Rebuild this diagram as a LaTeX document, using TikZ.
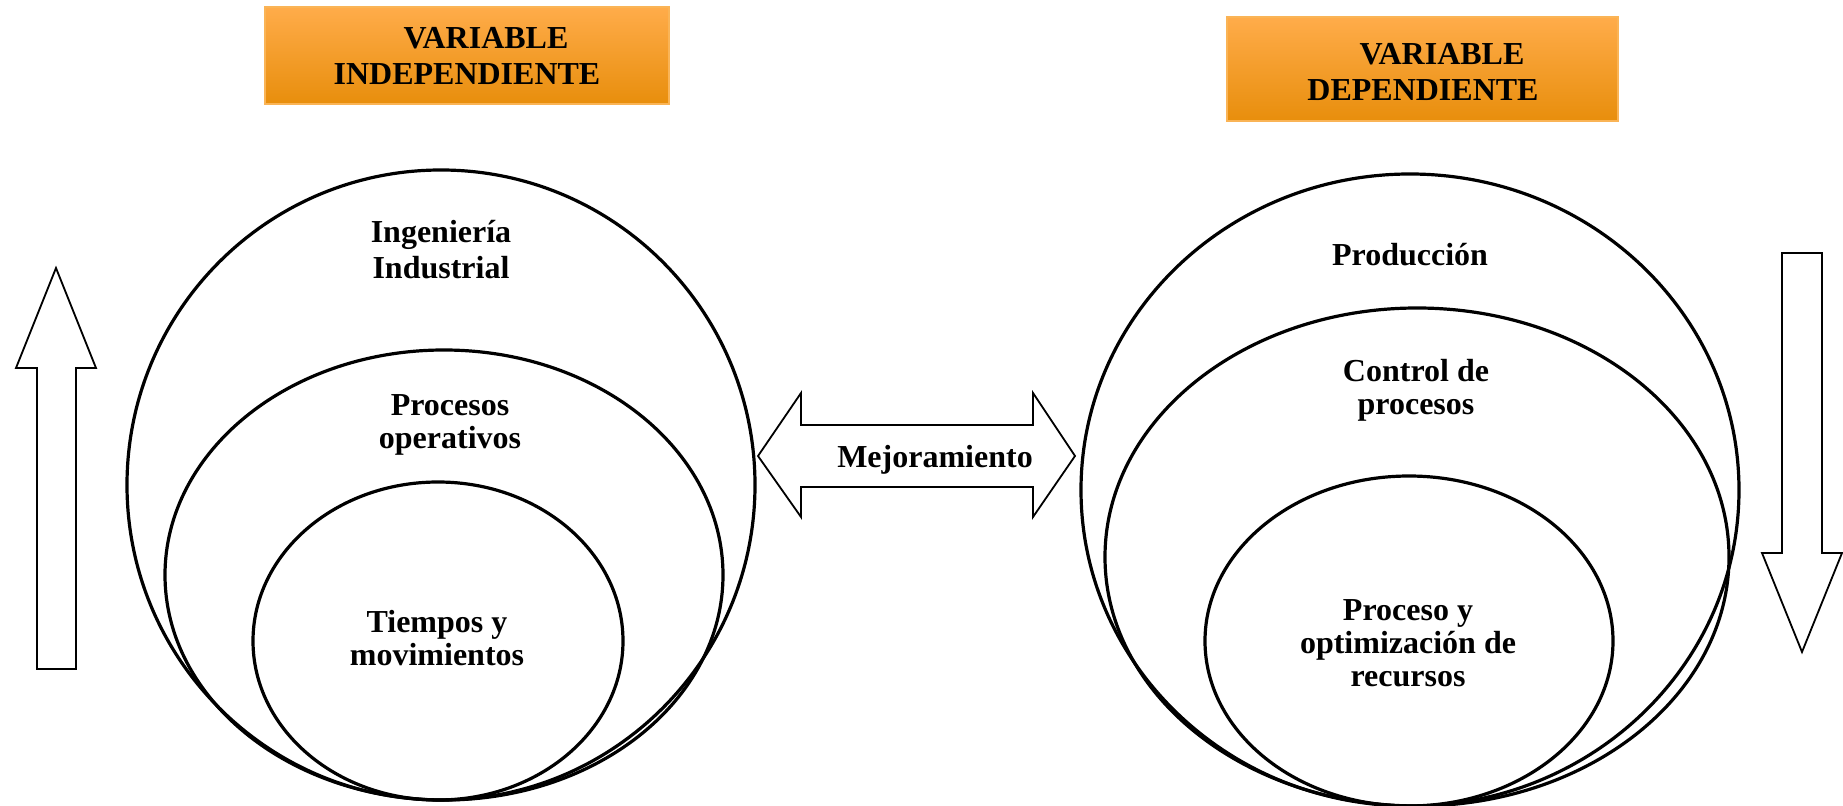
\documentclass[tikz,border=0pt]{standalone}
\usepackage{fontspec}
\setmainfont{Liberation Serif}
\definecolor{boxtop}{RGB}{255,172,74}
\definecolor{boxmid}{RGB}{252,160,40}
\definecolor{boxbot}{RGB}{232,142,12}
\definecolor{boxline}{RGB}{250,180,86}
\tikzset{ring/.style={line width=1.6pt}}
\tikzset{blockarrow/.style={line width=0.9pt, line join=miter, fill=white}}
\tikzset{varbox/.style={draw=boxline, line width=0.6pt, top color=boxtop, middle color=boxmid, bottom color=boxbot}}
\tikzset{concepto/.style={font=\bfseries\fontsize{16}{16.5}\selectfont, align=center, inner sep=0pt}}
\begin{document}
\begin{tikzpicture}[x=0.5pt, y=-0.5pt]
    \useasboundingbox (0, 0) rectangle (1843, 806);

    % cabeceras
    \draw[varbox] (265, 7) rectangle (669, 104);
    \node[concepto, font=\bfseries\fontsize{16}{18}\selectfont] (indep) at (467, 56)
        {\hspace*{19pt}VARIABLE\\INDEPENDIENTE};
    \draw[varbox] (1227, 17) rectangle (1618, 121);
    \node[concepto, font=\bfseries\fontsize{16}{18}\selectfont] (dep) at (1423, 72)
        {\hspace*{19pt}VARIABLE\\DEPENDIENTE};

    % variable independiente
    \draw[ring] (441, 485) ellipse [x radius=314, y radius=315];
    \draw[ring] (444, 575) ellipse [x radius=279, y radius=225];
    \draw[ring] (438, 641) ellipse [x radius=185, y radius=159];
    \node[concepto, font=\bfseries\fontsize{16}{18}\selectfont] (ingind) at (441, 250)
        {Ingeniería\\Industrial};
    \node[concepto] (procop) at (450, 425) {Procesos\\operativos};
    \node[concepto] (tiempos) at (437, 638) {Tiempos y\\movimientos};

    % variable dependiente
    \draw[ring] (1410, 490) ellipse [x radius=329, y radius=316];
    \draw[ring] (1417, 557) ellipse [x radius=312, y radius=249];
    \draw[ring] (1409, 641) ellipse [x radius=204, y radius=165];
    \node[concepto] (prod) at (1410, 255) {Producción};
    \node[concepto] (control) at (1416, 390) {Control de\\procesos};
    \node[concepto] (optim) at (1408, 643) {Proceso y\\optimización de\\recursos};

    % flechas
    \draw[blockarrow] (56, 268) -- (96, 368) -- (76, 368) -- (76, 669)
        -- (37, 669) -- (37, 368) -- (16, 368) -- cycle;
    \draw[blockarrow] (1782, 253) -- (1822, 253) -- (1822, 553) -- (1842, 553)
        -- (1802, 652) -- (1762, 553) -- (1782, 553) -- cycle;
    \draw[blockarrow] (758, 456) -- (801, 393) -- (801, 425) -- (1033, 425)
        -- (1033, 393) -- (1075, 456) -- (1033, 517) -- (1033, 487)
        -- (801, 487) -- (801, 517) -- cycle;
    \node[concepto] (mejora) at (935, 460) {Mejoramiento};
\end{tikzpicture}
\end{document}
